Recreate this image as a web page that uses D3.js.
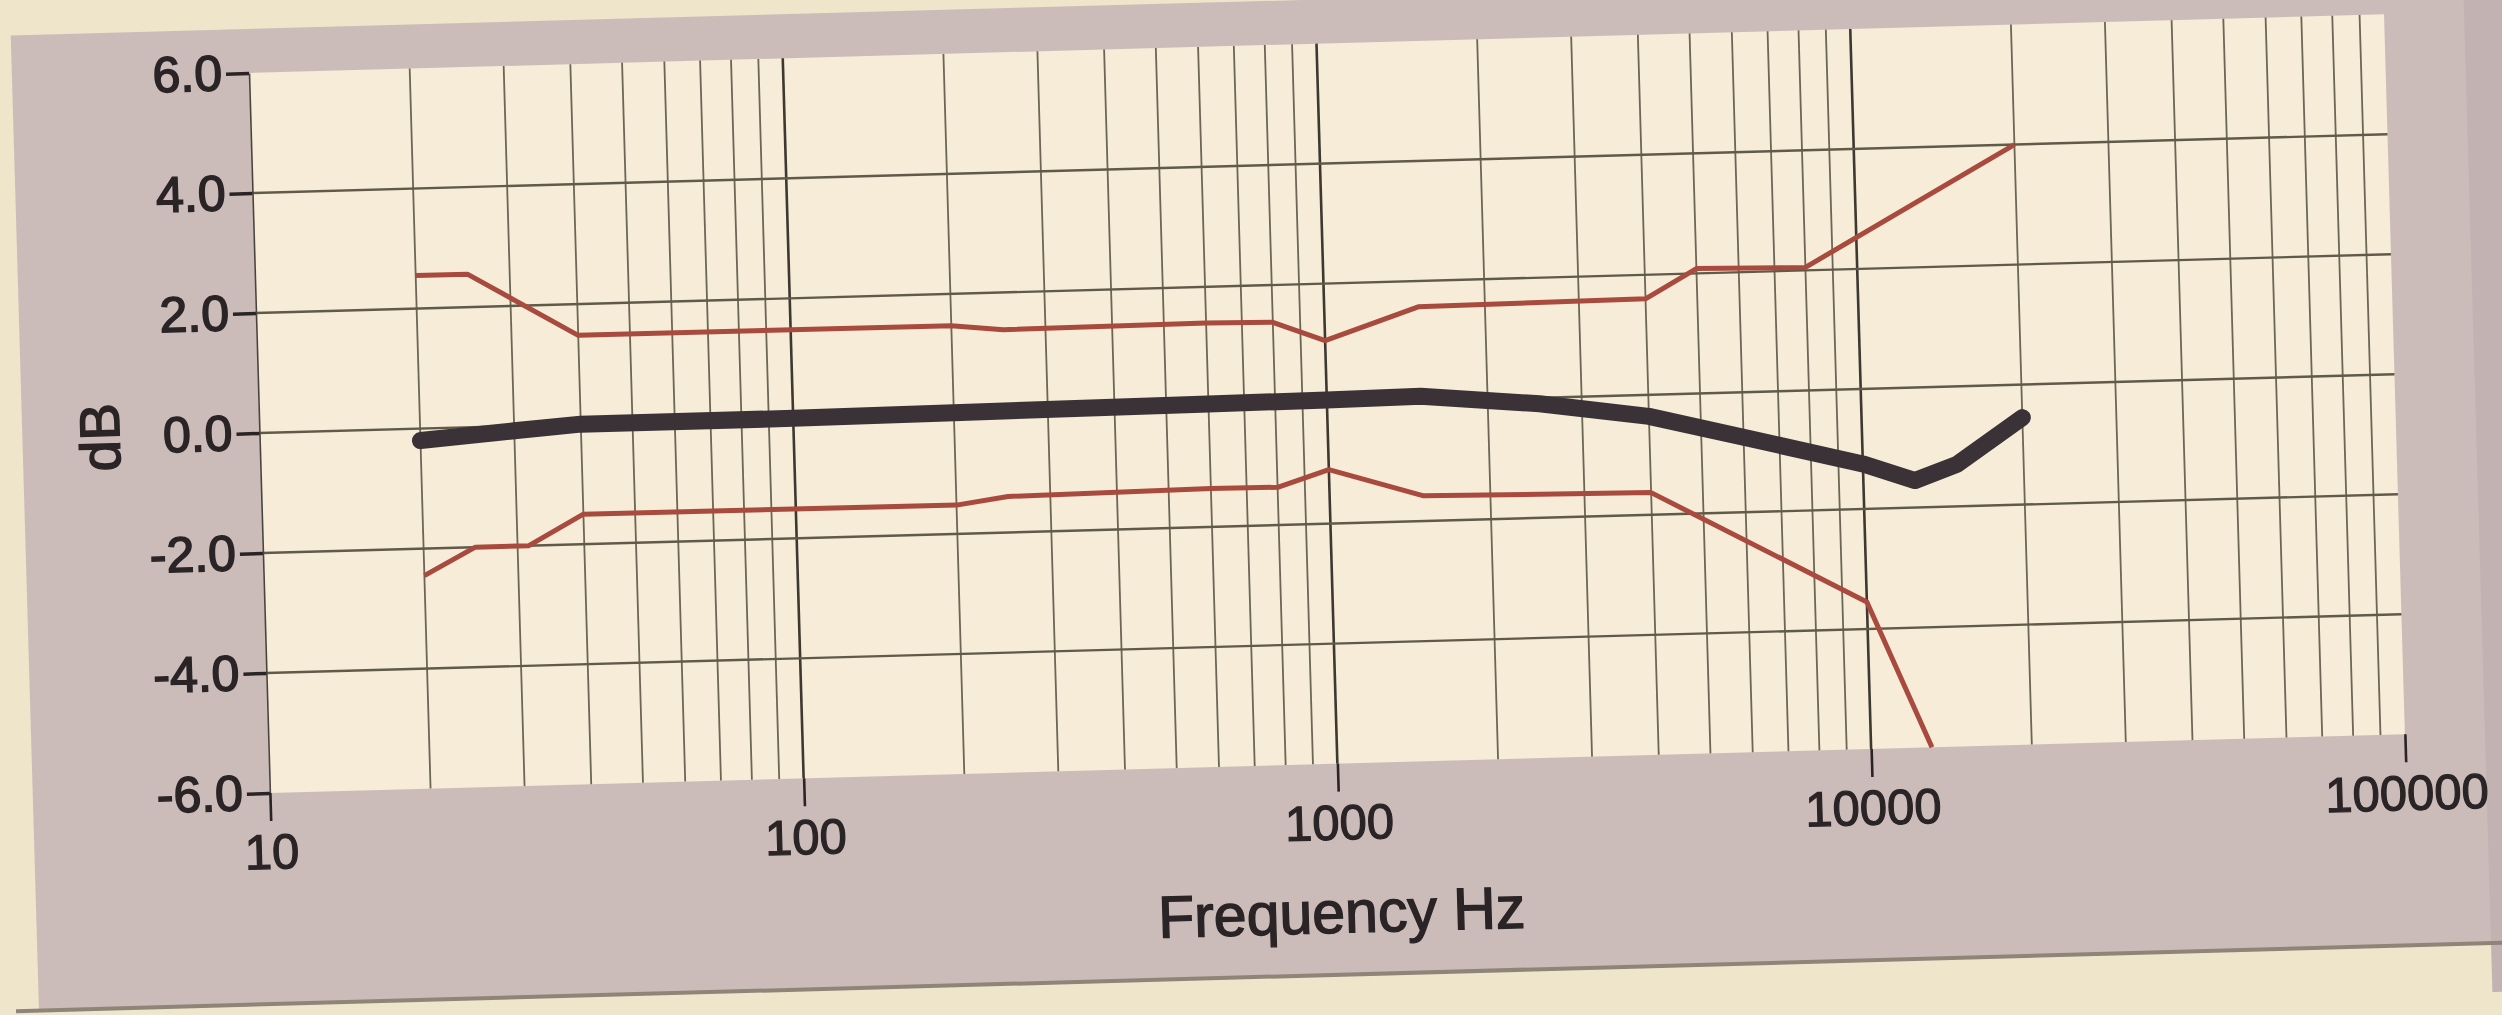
<!DOCTYPE html>
<html>
<head>
<meta charset="utf-8">
<script src="https://cdn.jsdelivr.net/npm/d3@7"></script>
<style>
  html, body { margin: 0; padding: 0; background: #efe5cb; }
  svg { display: block; }
  text { font-family: "Liberation Sans", Arial, Helvetica, sans-serif; fill: #2a2426; }
</style>
</head>
<body>
<div id="chart"></div>
<script>
// Frequency response of the capsule with its upper / lower tolerance limits

// Response curve (thick dark line)
const responseFreq = [20, 30, 40, 100, 200, 600, 1000, 1500, 2500, 4000, 6000, 10000, 12500, 15000, 20000];
const responseDb = [-0.2, -0.08, 0.0, 0.0, 0.02, 0.05, 0.06, 0.08, -0.1, -0.36, -0.75, -1.25, -1.55, -1.3, -0.55];

// Upper tolerance limit (red)
const upperFreq = [20, 25, 40, 200, 250, 600, 800, 1000, 1500, 4000, 5000, 8000, 20000];
const upperDb = [2.55, 2.55, 1.48, 1.47, 1.38, 1.4, 1.38, 1.05, 1.57, 1.6, 2.08, 2.05, 4.0];

// Lower tolerance limit (red)
const lowerFreq = [20, 25, 31.5, 40, 200, 250, 600, 800, 1000, 1500, 4000, 10000, 13000];
const lowerDb = [-2.45, -2.0, -2.0, -1.5, -1.52, -1.4, -1.36, -1.37, -1.1, -1.58, -1.63, -3.55, -6.0];

// Axis ticks
const dbTicks = [-6, -4, -2, 0, 2, 4, 6];
const dbGrid = [-4, -2, 0, 2, 4];
const freqTicks = [10, 100, 1000, 10000, 100000];

function drawChart() {
    const pageW = 2502;
    const pageH = 1015;
    const W = 2135;
    const H = 720;

    const svg = d3.select("#chart")
        .append("svg")
        .attr("width", pageW)
        .attr("height", pageH);

    // paper
    svg.append("rect")
        .attr("width", pageW)
        .attr("height", pageH)
        .attr("fill", "#efe5cb");

    // the printed sheet sits a little tilted in the photo
    const g = svg.append("g")
        .attr("transform", "matrix(1,-0.0275,0.029,1,249,73)");

    // grey frame around the plot
    g.append("rect")
        .attr("x", -237)
        .attr("y", -44)
        .attr("width", 2700)
        .attr("height", 974)
        .attr("fill", "#cbbcb9");

    // darker strip at the right edge of the sheet
    g.append("rect")
        .attr("x", 2215)
        .attr("y", -120)
        .attr("width", 400)
        .attr("height", 1100)
        .attr("fill", "#c2b2b2");

    g.append("line")
        .attr("x1", -260).attr("x2", 2500)
        .attr("y1", 931).attr("y2", 931)
        .attr("stroke", "#8f8478")
        .attr("stroke-width", 4);

    const xScale = d3.scaleLog()
        .domain([10, 100000])
        .range([0, W]);

    const yScale = d3.scaleLinear()
        .domain([-6, 6])
        .range([H, 0]);

    // plot area
    g.append("rect")
        .attr("width", W)
        .attr("height", H)
        .attr("fill", "#f6ecd7");

    // vertical grid (every 1..9 of each decade)
    g.append("g")
        .selectAll("line")
        .data(xScale.ticks().filter(d => d > 10 && d < 100000))
        .enter()
        .append("line")
        .attr("x1", d => xScale(d))
        .attr("x2", d => xScale(d))
        .attr("y1", 0)
        .attr("y2", H)
        .attr("stroke", d => freqTicks.includes(d) ? "#3e3833" : "#6c6657")
        .attr("stroke-width", d => freqTicks.includes(d) ? 2.6 : 1.8);

    // horizontal grid
    g.append("g")
        .selectAll("line")
        .data(dbGrid)
        .enter()
        .append("line")
        .attr("x1", 0)
        .attr("x2", W)
        .attr("y1", d => yScale(d))
        .attr("y2", d => yScale(d))
        .attr("stroke", "#5f5a4a")
        .attr("stroke-width", 2.4);

    // Axes
    const yAxis = g.append("g")
        .call(d3.axisLeft(yScale)
            .tickValues(dbTicks)
            .tickSize(23)
            .tickSizeOuter(0)
            .tickPadding(4)
            .tickFormat(d => d.toFixed(1)));
    yAxis.select(".domain").attr("stroke", "#4a4440").attr("stroke-width", 1.6);
    yAxis.selectAll(".tick line").attr("stroke", "#2a2426").attr("stroke-width", 3.5);
    yAxis.selectAll("text")
        .attr("font-size", 50)
        .style("font-family", "'Liberation Sans', Arial, sans-serif")
        .attr("fill", "#2a2426")
        .attr("stroke", "#2a2426")
        .attr("stroke-width", 1.6);

    const xAxis = g.append("g")
        .attr("transform", `translate(0,${H})`)
        .call(d3.axisBottom(xScale)
            .tickValues(freqTicks)
            .tickSize(28)
            .tickSizeOuter(0)
            .tickPadding(13)
            .tickFormat(d3.format("d")));
    xAxis.select(".domain").remove();
    xAxis.selectAll(".tick line").attr("stroke", "#2a2426").attr("stroke-width", 2.6);
    xAxis.selectAll("text")
        .attr("font-size", 49)
        .style("font-family", "'Liberation Sans', Arial, sans-serif")
        .attr("fill", "#2a2426")
        .attr("stroke", "#2a2426")
        .attr("stroke-width", 1.2);

    // Curves
    const line = d3.line()
        .x(d => xScale(d[0]))
        .y(d => yScale(d[1]));

    g.append("path")
        .datum(d3.zip(upperFreq, upperDb))
        .attr("fill", "none")
        .attr("stroke", "#a84a3e")
        .attr("stroke-width", 5)
        .attr("stroke-linejoin", "round")
        .attr("d", line);

    g.append("path")
        .datum(d3.zip(lowerFreq, lowerDb))
        .attr("fill", "none")
        .attr("stroke", "#a84a3e")
        .attr("stroke-width", 5)
        .attr("stroke-linejoin", "round")
        .attr("d", line);

    g.append("path")
        .datum(d3.zip(responseFreq, responseDb))
        .attr("fill", "none")
        .attr("stroke", "#3a3237")
        .attr("stroke-width", 17)
        .attr("stroke-linejoin", "round")
        .attr("stroke-linecap", "round")
        .attr("d", line);

    // Axis titles
    g.append("text")
        .attr("x", W / 2)
        .attr("y", 889)
        .attr("text-anchor", "middle")
        .attr("font-size", 59)
        .attr("stroke", "#2a2426")
        .attr("stroke-width", 1.4)
        .text("Frequency Hz");

    g.append("text")
        .attr("transform", `translate(-140,${H / 2}) rotate(-90)`)
        .attr("text-anchor", "middle")
        .attr("font-size", 56)
        .attr("stroke", "#2a2426")
        .attr("stroke-width", 1.4)
        .text("dB");
}

document.addEventListener("DOMContentLoaded", drawChart);
</script>
</body>
</html>
